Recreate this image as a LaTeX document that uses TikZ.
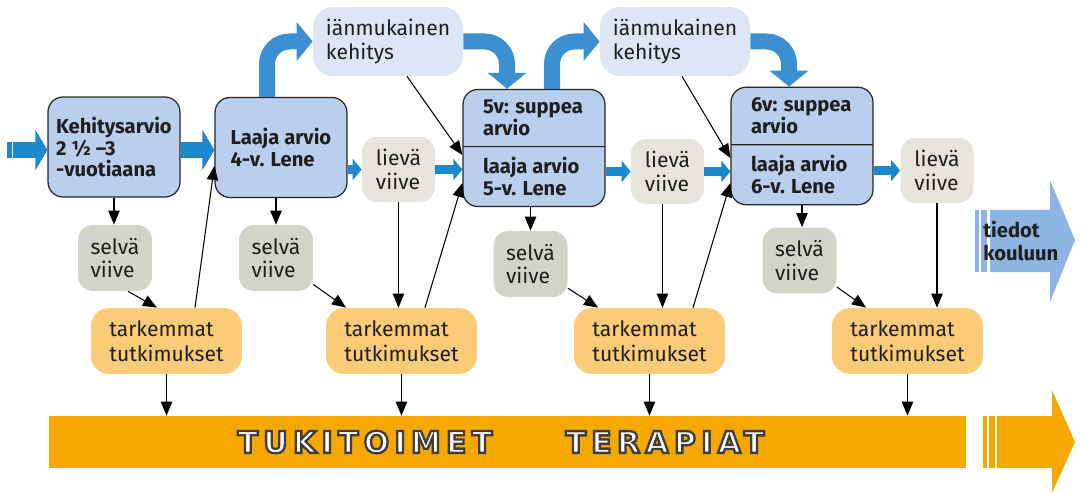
\documentclass[tikz,border=0pt]{standalone}
\usepackage{fontspec}
\setmainfont{Fira Sans}
\newfontfamily\barfont[LetterSpace=18]{DejaVu Sans}
\usetikzlibrary{arrows.meta,shapes.multipart}
\definecolor{arviofill}{RGB}{186,206,237}
\definecolor{kehfill}{RGB}{220,230,246}
\definecolor{lievafill}{RGB}{230,228,220}
\definecolor{selvafill}{RGB}{211,211,199}
\definecolor{tarkfill}{RGB}{252,203,120}
\definecolor{arrowblue}{RGB}{28,137,206}
\definecolor{bendblue}{RGB}{58,144,208}
\definecolor{tiedotblue}{RGB}{141,180,226}
\definecolor{barorange}{RGB}{245,168,0}
\definecolor{inkgray}{RGB}{30,30,30}
\newcommand\ringtext[1]{\special{pdf:code 0.24 0.24 0.24 RG 1.3 w 2 Tr}#1\special{pdf:code 0 Tr}}

\begin{document}
\begin{tikzpicture}[x=0.02cm,y=-0.02cm,
	arvio/.style={draw=black!85, line width=0.7pt, fill=arviofill, rounded corners=0.3cm, text=inkgray, align=left, inner sep=2pt, font=\bfseries\fontsize{11.5}{12.5}\selectfont, minimum width=2.64cm, minimum height=2cm},
	splitarvio/.style={arvio, rectangle split, rectangle split parts=2, rectangle split part align=left, minimum width=2.84cm, minimum height=0pt, inner xsep=0.4cm, inner ysep=5.7pt},
	kehitys/.style={fill=kehfill, rounded corners=0.4cm, text=inkgray, align=left, font=\fontsize{12}{14}\selectfont, minimum width=3cm, minimum height=1.38cm},
	lieva/.style={fill=lievafill, rounded corners=0.3cm, text=inkgray, align=left, font=\fontsize{12}{13.5}\selectfont, minimum width=1.46cm, minimum height=1.3cm},
	selva/.style={lieva, fill=selvafill, minimum width=1.48cm, minimum height=1.32cm},
	tark/.style={fill=tarkfill, rounded corners=0.36cm, text=inkgray, align=left, font=\fontsize{12}{14}\selectfont, minimum width=3.02cm, minimum height=1.32cm},
	fatarrow/.style={draw=arrowblue, line width=0.32cm, -{Triangle[length=0.24cm,width=0.8cm]}},
	smallarrow/.style={draw=arrowblue, line width=0.2cm, -{Triangle[length=0.18cm,width=0.42cm]}},
	bendarrow/.style={draw=bendblue, line width=0.32cm, rounded corners=0.45cm, -{Triangle[length=0.32cm,width=0.76cm]}},
	thinarrow/.style={draw=black, line width=0.6pt, -{Triangle[length=8pt,width=6.5pt]}},
	bartext/.style={font=\barfont\bfseries\fontsize{17}{17}\selectfont, text=white, inner sep=0pt}]
	\useasboundingbox (0,0) rectangle (1081,493);

	\node[arvio] (b1) at (114,147) {Kehitysarvio\\2 ½ –3\\-vuotiaana};
	\node[arvio] (b2) at (281,147.5) {Laaja arvio\\4-v. Lene};
	\node[splitarvio] (b3) at (534,148) {5v: suppea\\arvio\nodepart{two}laaja arvio\\5-v. Lene};
	\node[splitarvio] (b4) at (802,146) {6v: suppea\\arvio\nodepart{two}laaja arvio\\6-v. Lene};

	\node[kehitys] (i1) at (388,41.5) {iänmukainen\\kehitys};
	\node[kehitys] (i2) at (675,41.5) {iänmukainen\\kehitys};

	\node[lieva] (l1) at (398.5,169.5) {lievä\\viive};
	\node[lieva] (l2) at (667.5,171.5) {lievä\\viive};
	\node[lieva] (l3) at (937,170.5) {lievä\\viive};

	\node[selva] (s1) at (115,258) {selvä\\viive};
	\node[selva] (s2) at (276,258) {selvä\\viive};
	\node[selva] (s3) at (530.5,264) {selvä\\viive};
	\node[selva] (s4) at (799.5,260.5) {selvä\\viive};

	\node[tark] (t1) at (166.5,341) {tarkemmat\\tutkimukset};
	\node[tark] (t2) at (401.5,341) {tarkemmat\\tutkimukset};
	\node[tark] (t3) at (649.5,341) {tarkemmat\\tutkimukset};
	\node[tark] (t4) at (907.5,341) {tarkemmat\\tutkimukset};

	\node[fill=barorange, minimum width=18.34cm, minimum height=1.04cm, inner sep=0pt] (tuki) at (507.5,442) {};
	\fill[barorange] (983,416) rectangle (987,468);
	\fill[barorange] (989,416) rectangle (995,468);
	\fill[barorange] (997,416) -- (1052,416) -- (1052,390) -- (1075,442) -- (1052,493) -- (1052,468) -- (997,468) -- cycle;
	\node[bartext] (tukitoimet) at (365,442) {\ringtext{TUKITOIMET}};
	\node[bartext] (terapiat) at (665,442) {\ringtext{TERAPIAT}};

	\fill[tiedotblue] (975,210) rectangle (979,272);
	\fill[tiedotblue] (981,210) rectangle (987,272);
	\fill[tiedotblue] (990,210) -- (1050,210) -- (1050,180) -- (1075,240) -- (1050,302) -- (1050,272) -- (990,272) -- cycle;
	\node[anchor=west, text=inkgray, align=left, inner sep=0pt, font=\bfseries\fontsize{11.5}{13.5}\selectfont] (tiedot) at (983,241) {tiedot\\kouluun};

	\coordinate (entry) at (13,150);
	\fill[arrowblue] (7,142) rectangle (12,158);
	\draw[fatarrow] (entry) -- (entry -| b1.west);
	\draw[fatarrow] (b1.east |- entry) -- (b2.west |- entry);
	\draw[smallarrow] (b2.east |- l1) -- (l1.west);
	\draw[smallarrow] (l1.east) -- (l1 -| b3.west);
	\draw[smallarrow] (b3.east |- l2) -- (l2.west);
	\draw[smallarrow] (l2.east) -- (l2 -| b4.west);
	\draw[smallarrow] (b4.east |- l3) -- (l3.west);

	\draw[bendarrow] ([xshift=-0.28cm]b2.north) |- (i1.west);
	\draw[bendarrow] (i1.east) -| ([xshift=-0.54cm]b3.north);
	\draw[bendarrow] ([xshift=0.36cm]b3.north) |- (i2.west);
	\draw[bendarrow] (i2.east) -| ([xshift=-0.26cm]b4.north);

	\draw[thinarrow] (b1.south) -- (b1.south |- s1.north);
	\draw[thinarrow] ([xshift=0.26cm]s1.south) -- ([xshift=-0.19cm]t1.north);
	\draw[thinarrow] ([xshift=0.57cm]t1.north) -- ([yshift=-0.37cm]b2.west);
	\draw[thinarrow] (b2.south -| s2) -- (s2.north);
	\draw[thinarrow] (s2) -- ([xshift=-1.11cm]t2.north);
	\draw[thinarrow] (l1.south) -- (l1.south |- t2.north);
	\draw[thinarrow] ([xshift=0.47cm]t2.north) -- ([yshift=-0.7cm]b3.west);
	\draw[thinarrow] ([xshift=0.38cm]i1.south) -- ([yshift=-0.14cm]b3.west);
	\draw[thinarrow] (b3.south -| s3) -- (s3.north);
	\draw[thinarrow] (s3) -- ([xshift=-1.03cm]t3.north);
	\draw[thinarrow] ([xshift=-0.1cm]l2.south) -- ([xshift=-0.1cm]l2.south |- t3.north);
	\draw[thinarrow] ([xshift=0.87cm]t3.north) -- ([yshift=-0.74cm]b4.west);
	\draw[thinarrow] ([xshift=0.14cm]i2.south) -- ([yshift=-0.24cm]b4.west);
	\draw[thinarrow] (b4.south) -- (b4.south |- s4.north);
	\draw[thinarrow] (s4) -- ([xshift=-0.83cm]t4.north);
	\draw[thinarrow] (l3.south) -- (l3.south |- t4.north);
	\foreach \t in {t1,t2,t3,t4}
		\draw[thinarrow] (\t.south) -- (\t.south |- tuki.north);
\end{tikzpicture}
\end{document}
